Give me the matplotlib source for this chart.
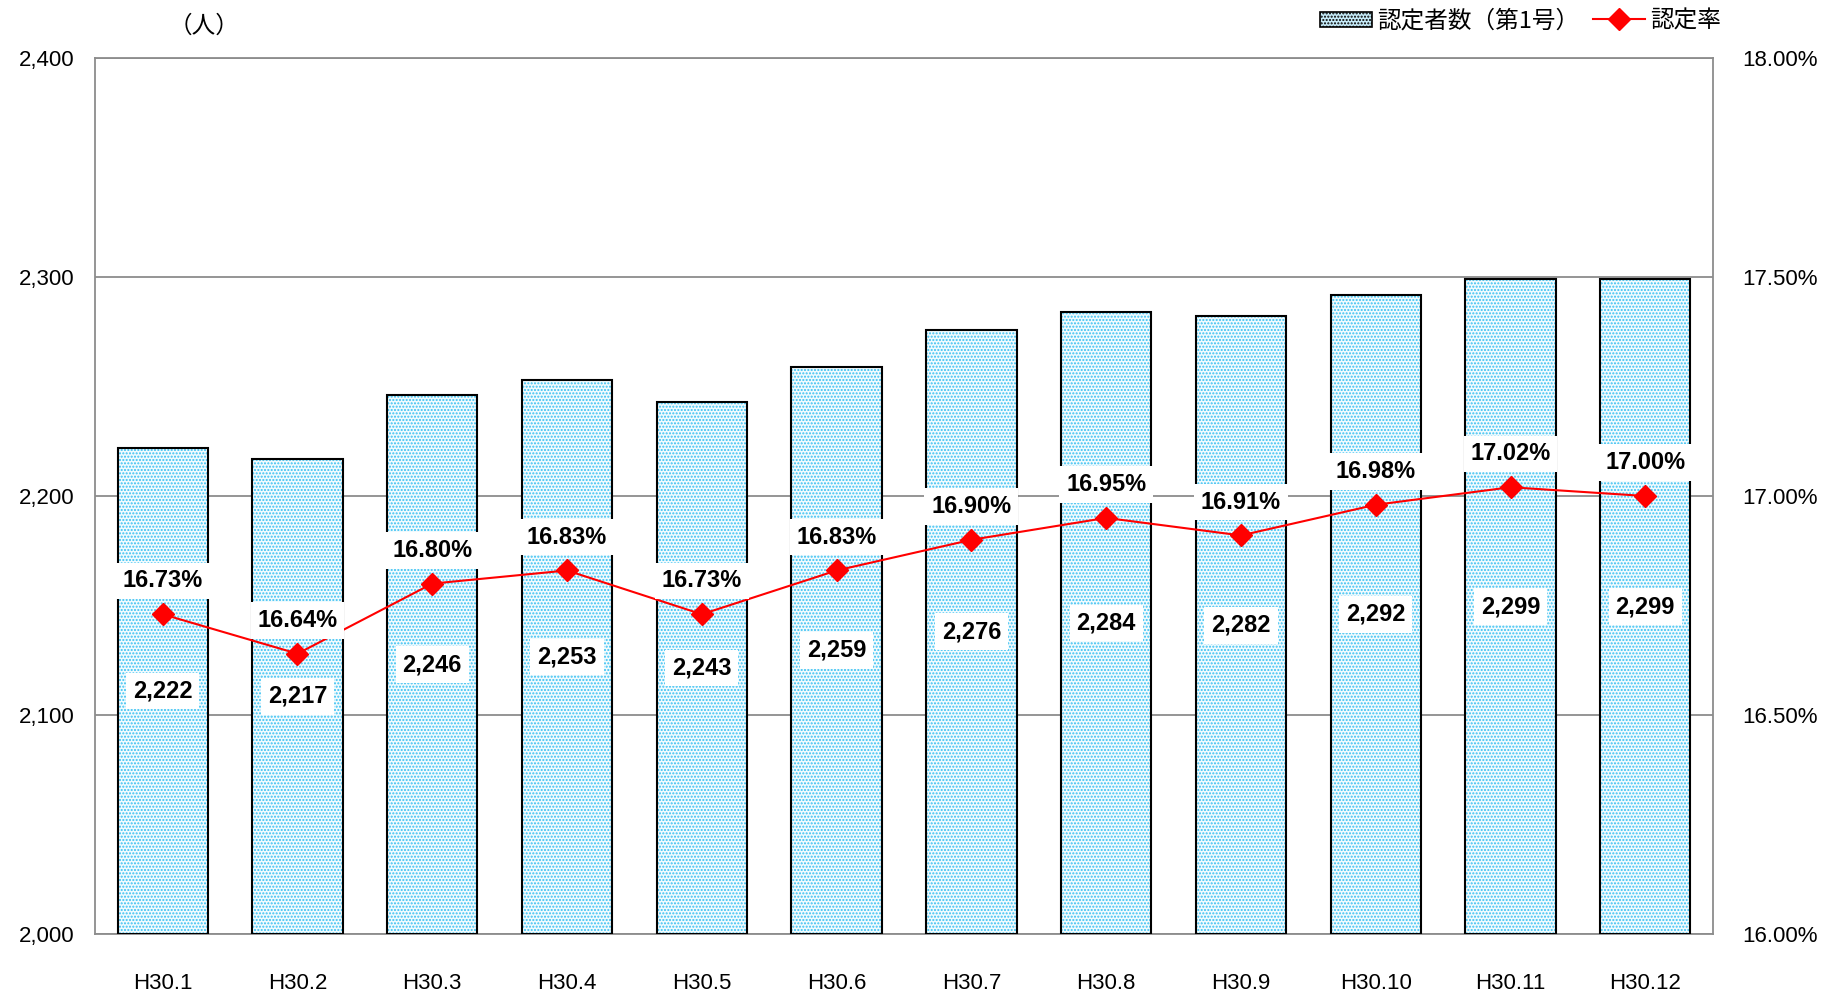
import matplotlib.pyplot as plt
import numpy as np
from matplotlib.patches import Patch
from matplotlib.lines import Line2D

plt.rcParams['font.family'] = ['Liberation Sans', 'Noto Sans CJK JP', 'DejaVu Sans']
plt.rcParams['hatch.linewidth'] = 1.0

# data
months = ['H30.1', 'H30.2', 'H30.3', 'H30.4', 'H30.5', 'H30.6',
          'H30.7', 'H30.8', 'H30.9', 'H30.10', 'H30.11', 'H30.12']
counts = [2222, 2217, 2246, 2253, 2243, 2259, 2276, 2284, 2282, 2292, 2299, 2299]
rates = [16.73, 16.64, 16.80, 16.83, 16.73, 16.83, 16.90, 16.95, 16.91, 16.98, 17.02, 17.00]

x = np.arange(len(months))

fig = plt.figure(figsize=(18.22, 9.93), dpi=100)
ax = fig.add_axes([0.0523, 0.0594, 0.8877, 0.8822])
ax2 = ax.twinx()

# bars: dotted fill then black outline
ax.bar(x, np.array(counts) - 2000, bottom=2000, width=0.67, color='#f2fbfe',
       edgecolor='#38c0f2', hatch='.....', linewidth=0, zorder=2)
ax.bar(x, np.array(counts) - 2000, bottom=2000, width=0.67, color='none',
       edgecolor='black', linewidth=1.5, zorder=3)

ax.set_ylim(2000, 2400)
ax.set_yticks([2000, 2100, 2200, 2300, 2400])
ax.set_yticklabels(['{:,}'.format(v) for v in [2000, 2100, 2200, 2300, 2400]])
ax.set_xlim(-0.5, len(months) - 0.5)
ax.set_xticks(x)
ax.set_xticklabels(months)
ax.grid(axis='y', color='#8c8c8c', linewidth=1.3, zorder=0)
ax.set_axisbelow(True)
ax.tick_params(axis='y', length=0, pad=15, labelsize=16)
ax.tick_params(axis='x', length=0, pad=28, labelsize=16)
for sp in ax.spines.values():
    sp.set_color('#8c8c8c')
    sp.set_linewidth(1.3)
for sp in ax2.spines.values():
    sp.set_visible(False)

# count labels centred in bars
for xi, c in zip(x, counts):
    ax.text(xi, (2000 + c) / 2, '{:,}'.format(c), ha='center', va='center',
            fontsize=17, fontweight='bold', zorder=5,
            bbox=dict(facecolor='white', edgecolor='none', pad=5))

# rate line
ax2.plot(x, rates, color='#ff0000', linewidth=1.5, marker='D', markersize=11,
         markerfacecolor='#ff0000', markeredgecolor='#ff0000', zorder=6)
ax2.set_ylim(16.0, 18.0)
ax2.set_yticks([16.0, 16.5, 17.0, 17.5, 18.0])
ax2.set_yticklabels(['{:.2f}%'.format(v) for v in [16.0, 16.5, 17.0, 17.5, 18.0]])
ax2.tick_params(axis='y', length=0, pad=21, labelsize=16)
for xi, r in zip(x, rates):
    ax2.annotate('{:.2f}%'.format(r), (xi, r), xytext=(0, 24), textcoords='offset points',
                 ha='center', va='center', fontsize=17, fontweight='bold', zorder=7,
                 bbox=dict(facecolor='white', edgecolor='none', pad=5))

ax.set_zorder(ax2.get_zorder() - 1)
ax2.patch.set_visible(False)

fig.text(0.112, 0.974, '（人）', ha='center', va='center', fontsize=17,
         family=['Noto Sans CJK JP'])

# legend
handles = [Patch(facecolor='#c6ebf8', edgecolor='black', hatch='.....', linewidth=1.2),
           Line2D([0], [0], color='#ff0000', marker='D', markersize=11, linewidth=1.5)]
fig.legend(handles, ['認定者数（第1号）', '認定率'], loc='upper right',
           bbox_to_anchor=(0.956, 1.012), ncol=2, frameon=False,
           handlelength=2.2, handleheight=0.6, columnspacing=0.6, handletextpad=0.2,
           prop={'family': ['Noto Sans CJK JP'], 'size': 17})

fig.savefig('out.png', dpi=100)
